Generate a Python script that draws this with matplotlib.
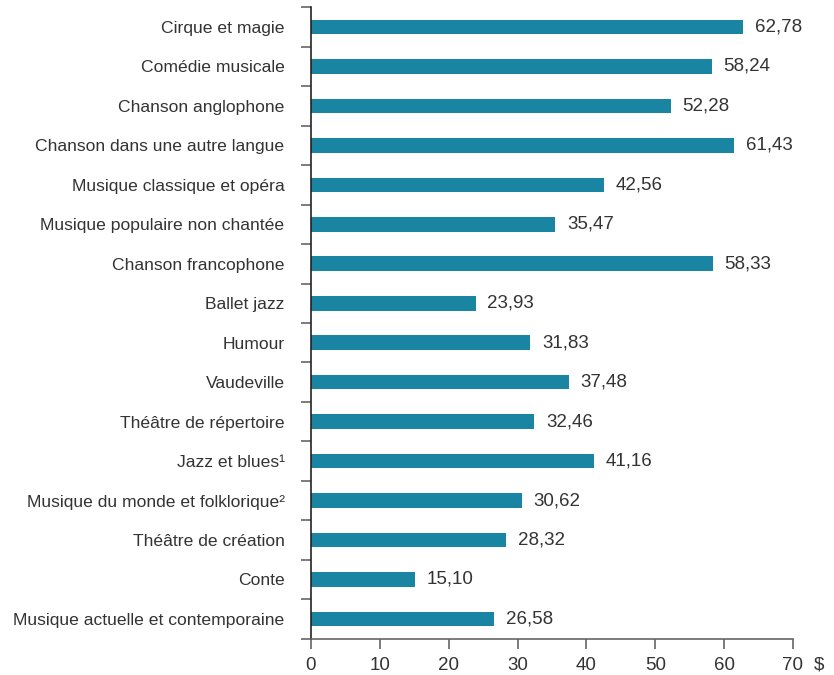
from matplotlib import pyplot as plt
import numpy as np

categories = ['Cirque et magie', 'Comédie musicale', 'Chanson anglophone',
              'Chanson dans une autre langue', 'Musique classique et opéra',
              'Musique populaire non chantée', 'Chanson francophone',
              'Ballet jazz', 'Humour', 'Vaudeville', 'Théâtre de répertoire',
              'Jazz et blues¹', 'Musique du monde et folklorique²',
              'Théâtre de création', 'Conte',
              'Musique actuelle et contemporaine']
values = [62.78, 58.24, 52.28, 61.43, 42.56, 35.47, 58.33, 23.93, 31.83,
          37.48, 32.46, 41.16, 30.62, 28.32, 15.10, 26.58]
xticks = [0, 10, 20, 30, 40, 50, 60, 70]

plt.rcParams['font.family'] = ['Liberation Sans', 'DejaVu Sans']
txt = '#333333'
bar_col = '#1a84a3'

fig = plt.figure(figsize=(8.34, 6.75), dpi=100)
ax = fig.add_axes([0.3729, 0.0538, 0.9508 - 0.3729, 0.9892 - 0.0538])

y = np.arange(len(categories))
ax.barh(y, values, height=0.37, color=bar_col)
for yi, v in zip(y, values):
    ax.text(v + 1.7, yi, f'{v:.2f}'.replace('.', ','), va='center',
            ha='left', fontsize=13.5, color=txt)

ax.set_ylim(len(categories) - 0.5, -0.5)
ax.set_xlim(0, 70)
ax.set_yticks(y)
ax.set_yticklabels(categories, fontsize=12.6, color=txt)
ax.tick_params(axis='y', which='major', length=0, pad=19)
ax.set_yticks(np.arange(-0.5, len(categories)), minor=True)
ax.tick_params(axis='y', which='minor', length=7, width=1.2, color='#666666')

ax.set_xticks(xticks)
ax.set_xticklabels([str(t) for t in xticks], fontsize=13.5, color=txt)
ax.tick_params(axis='x', length=7, width=1.2, color='#666666', pad=6)
# unit sign next to the last tick label
ax.annotate('$', xy=(70, 0), xycoords=('data', 'axes fraction'),
            xytext=(15, -13), textcoords='offset points', fontsize=13.5,
            color=txt, ha='left', va='top')

for s in ['top', 'right']:
    ax.spines[s].set_visible(False)
ax.spines['left'].set_color('#222222')
ax.spines['left'].set_linewidth(1.2)
ax.spines['bottom'].set_color('#666666')
ax.spines['bottom'].set_linewidth(1.2)

fig.savefig('out.png', dpi=100)
